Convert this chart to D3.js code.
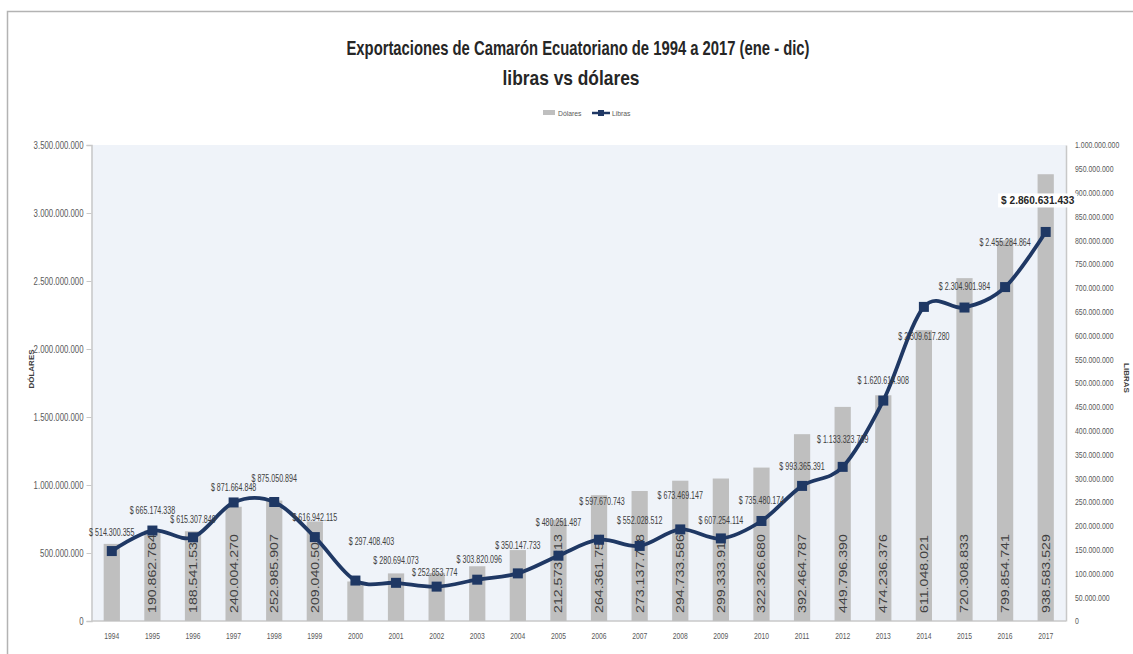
<!DOCTYPE html>
<html lang="es">
<head>
<meta charset="utf-8">
<title>Exportaciones de Camarón Ecuatoriano 1994-2017</title>
<script src="https://cdn.jsdelivr.net/npm/d3@7"></script>
<style>
  html, body { margin: 0; padding: 0; background: #ffffff; }
  svg { display: block; }
  text { font-family: "Liberation Sans", Arial, sans-serif; }
</style>
</head>
<body>
<svg id="chart" width="1133" height="654"></svg>
<script>
// ---- data ----
const years = ["1994","1995","1996","1997","1998","1999","2000","2001","2002","2003","2004","2005",
               "2006","2007","2008","2009","2010","2011","2012","2013","2014","2015","2016","2017"];

// export value in US dollars (line, left axis)
const dolares = [514300355, 665174338, 615307849, 871664848, 875050894, 616942115, 297408403, 280694073,
                 252853774, 303820096, 350147733, 480251487, 597670743, 552028512, 673469147, 607254114,
                 735480174, 993365391, 1133323709, 1620614908, 2309617280, 2304901984, 2455284864, 2860631433];

// export volume in pounds (bars, right axis)
const libras = [162000000, 190862764, 188541532, 240004270, 252985907, 209040504, 83000000, 100000000,
                101000000, 115000000, 149000000, 212573213, 264361758, 273137788, 294733586, 299333912,
                322326680, 392464787, 449796390, 474236376, 611048021, 720308833, 799854741, 938583529];

const leftTicks = [0, 500000000, 1000000000, 1500000000, 2000000000, 2500000000, 3000000000, 3500000000];
const rightTicks = d3.range(0, 1000000001, 50000000);

// ---- layout ----
const W = 1133, H = 654;
const plot = { left: 91.5, right: 1066, top: 145, bottom: 621 };
// vertical / horizontal shift of each dollar label relative to its marker
const labelShift = [-19,-20,-18,-15,-23,-20,-39,-22,-14,-20,-28,-33,-38,-25,-34,-18,-20,-19,-27,-20,30,-21,-45,-32];
const labelShiftX = [0,0,0,0,0,0,16,0,-2,2,0,0,3,0,0,0,0,0,0,0,0,0,0,-8];

const locale = d3.formatLocale({ decimal: ",", thousands: ".", grouping: [3], currency: ["$ ", ""] });
const fmt = locale.format(",d");

// squeeze (or stretch) a text selection horizontally
function condense(sel, factor) {
  sel.each(function () {
    const len = this.getComputedTextLength();
    d3.select(this).attr("textLength", len * factor).attr("lengthAdjust", "spacingAndGlyphs");
  });
  return sel;
}

const svg = d3.select("#chart");

// chart frame
svg.append("path")
  .attr("d", `M7.5,${H} L7.5,11.5 L${W},11.5`)
  .attr("fill", "none").attr("stroke", "#b3b3b3").attr("stroke-width", 1.5);

// titles
svg.append("text").attr("x", 578).attr("y", 55).attr("text-anchor", "middle")
  .attr("font-size", 21).attr("font-weight", "bold").attr("fill", "#262626")
  .attr("textLength", 463).attr("lengthAdjust", "spacingAndGlyphs")
  .text("Exportaciones de Camarón Ecuatoriano de 1994 a 2017 (ene - dic)");
svg.append("text").attr("x", 571).attr("y", 85).attr("text-anchor", "middle")
  .attr("font-size", 21).attr("font-weight", "bold").attr("fill", "#262626")
  .attr("textLength", 137).attr("lengthAdjust", "spacingAndGlyphs")
  .text("libras vs dólares");

// legend
const lg = svg.append("g").attr("transform", "translate(0,113)");
lg.append("rect").attr("x", 543).attr("y", -3).attr("width", 12).attr("height", 5).attr("fill", "#bfbfbf");
condense(lg.append("text").attr("x", 558).attr("y", 3).attr("font-size", 8).attr("fill", "#595959").text("Dólares"), 0.85);
lg.append("line").attr("x1", 592).attr("x2", 610).attr("y1", 0).attr("y2", 0)
  .attr("stroke", "#1f3864").attr("stroke-width", 2.5);
lg.append("rect").attr("x", 598).attr("y", -3).attr("width", 6).attr("height", 6).attr("fill", "#1f3864");
condense(lg.append("text").attr("x", 612).attr("y", 3).attr("font-size", 8).attr("fill", "#595959").text("Libras"), 0.85);

// scales
const x = d3.scaleBand().domain(years).range([plot.left, plot.right]).paddingInner(0.6).paddingOuter(0.3);
const yL = d3.scaleLinear().domain([0, 3500000000]).range([plot.bottom, plot.top]);
const yR = d3.scaleLinear().domain([0, 1000000000]).range([plot.bottom, plot.top]);
const cx = d => x(d) + x.bandwidth() / 2;

// plot background
svg.append("rect").attr("x", plot.left).attr("y", plot.top)
  .attr("width", plot.right - plot.left).attr("height", plot.bottom - plot.top)
  .attr("fill", "#eff3f9");

// axes
const axL = svg.append("g").attr("transform", `translate(${plot.left},0)`)
  .call(d3.axisLeft(yL).tickValues(leftTicks).tickFormat(fmt).tickSize(5).tickPadding(3));
const axR = svg.append("g").attr("transform", `translate(${plot.right},0)`)
  .call(d3.axisRight(yR).tickValues(rightTicks).tickFormat(fmt).tickSize(0).tickPadding(9));
const axB = svg.append("g").attr("transform", `translate(0,${plot.bottom})`)
  .call(d3.axisBottom(x).tickSize(0).tickPadding(12));
[axL, axR, axB].forEach(g => {
  g.selectAll(".domain").attr("stroke", "#c8c8c8").attr("stroke-width", 1.5);
  g.selectAll(".tick line").attr("stroke", "#c8c8c8");
  g.selectAll(".tick text").attr("fill", "#595959")
    .style("font-family", "'Liberation Sans', Arial, sans-serif");
});
axB.select(".domain").attr("d", `M${plot.left},0H${plot.right}`);
condense(axL.selectAll(".tick text").attr("font-size", 10), 0.78);
condense(axR.selectAll(".tick text").attr("font-size", 9), 0.77);
condense(axB.selectAll(".tick text").attr("font-size", 9), 0.75);

// axis titles
svg.append("text").attr("transform", "translate(34,369) rotate(-90)").attr("text-anchor", "middle")
  .attr("font-size", 8).attr("font-weight", "bold").attr("fill", "#404040").text("DÓLARES");
svg.append("text").attr("transform", "translate(1124,378) rotate(90)").attr("text-anchor", "middle")
  .attr("font-size", 8).attr("font-weight", "bold").attr("fill", "#404040").text("LIBRAS");

// bars: pounds
svg.append("g").selectAll("rect").data(years).join("rect")
  .attr("x", d => x(d)).attr("width", x.bandwidth())
  .attr("y", (d, i) => yR(libras[i])).attr("height", (d, i) => plot.bottom - yR(libras[i]))
  .attr("fill", "#bfbfbf");

// pound labels inside the taller bars, written bottom to top
condense(svg.append("g").selectAll("text").data(years.filter((d, i) => libras[i] > 170000000)).join("text")
  .attr("transform", d => `translate(${cx(d) + 4},${plot.bottom - 8}) rotate(-90)`)
  .attr("font-size", 10.5).attr("fill", "#404040")
  .text(d => fmt(libras[years.indexOf(d)])), 1.35);

// line: dollars
const line = d3.line().x((d, i) => cx(years[i])).y(d => yL(d)).curve(d3.curveCatmullRom.alpha(0));
svg.append("path").datum(dolares).attr("d", line)
  .attr("fill", "none").attr("stroke", "#1f3864").attr("stroke-width", 3.8);
svg.append("g").selectAll("rect").data(dolares).join("rect")
  .attr("x", (d, i) => cx(years[i]) - 5).attr("y", d => yL(d) - 5)
  .attr("width", 10).attr("height", 10).attr("fill", "#1f3864");

// dollar labels
const last = dolares.length - 1;
condense(svg.append("g").selectAll("text").data(dolares.slice(0, last)).join("text")
  .attr("x", (d, i) => cx(years[i]) + labelShiftX[i])
  .attr("y", (d, i) => yL(d) + labelShift[i] + 3.5)
  .attr("text-anchor", "middle").attr("font-size", 10).attr("fill", "#404040")
  .text(d => "$ " + fmt(d)), 0.71);

// final-year label, emphasised on a white box
const lx = cx(years[last]) + labelShiftX[last], ly = yL(dolares[last]) + labelShift[last];
const lbl = svg.append("text").attr("x", lx).attr("y", ly + 4.5)
  .attr("text-anchor", "middle").attr("font-size", 11.5).attr("font-weight", "bold").attr("fill", "#262626")
  .text("$ " + fmt(dolares[last]));
condense(lbl, 0.88);
const bb = lbl.node().getBBox();
svg.insert("rect", () => lbl.node()).attr("x", bb.x - 3).attr("y", bb.y - 1)
  .attr("width", bb.width + 6).attr("height", bb.height + 2).attr("fill", "#ffffff");
</script>
</body>
</html>
